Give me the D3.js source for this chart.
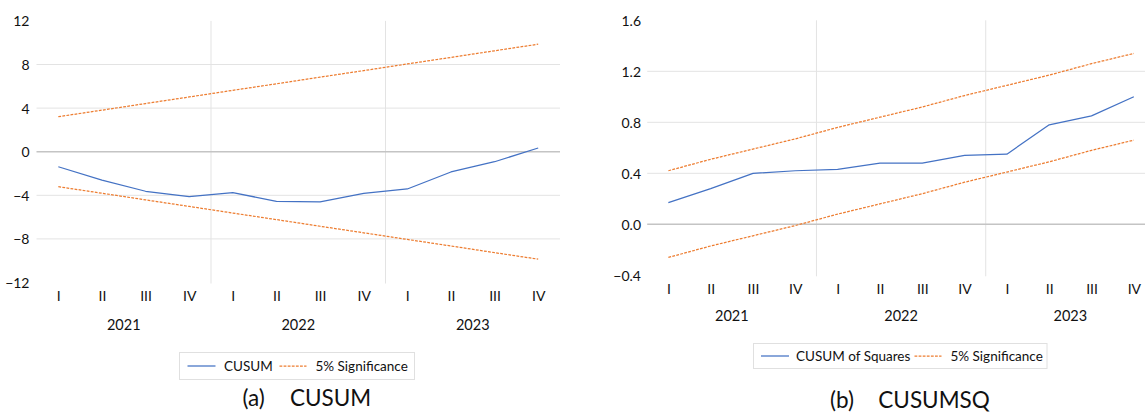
<!DOCTYPE html>
<html>
<head>
<meta charset="utf-8">
<script src="https://cdn.jsdelivr.net/npm/d3@7"></script>
<style>
  html, body { margin: 0; padding: 0; background: #fff; }
  svg { display: block; font-family: Lato, "Open Sans", sans-serif; }
</style>
</head>
<body>
<svg id="chart" width="1145" height="413"></svg>
<script>
// Quarterly periods
const years = ["2021", "2022", "2023"];
const quarters = ["I", "II", "III", "IV"];

// (a) CUSUM and its 5% bounds
const cusum      = [-1.38, -2.60, -3.63, -4.13, -3.76, -4.55, -4.61, -3.82, -3.42, -1.86, -0.92, 0.34];
const cusumUpper = [3.21, 3.81, 4.42, 5.02, 5.63, 6.23, 6.84, 7.44, 8.05, 8.65, 9.26, 9.86];
const cusumLower = [-3.21, -3.81, -4.42, -5.02, -5.63, -6.23, -6.84, -7.44, -8.05, -8.65, -9.26, -9.86];
const cusumTicks = [-12, -8, -4, 0, 4, 8, 12];

// (b) CUSUM of squares and its 5% bounds
const cusumsq      = [0.17, 0.28, 0.40, 0.42, 0.43, 0.48, 0.48, 0.54, 0.55, 0.78, 0.85, 1.00];
const cusumsqUpper = [0.42, 0.51, 0.59, 0.67, 0.76, 0.84, 0.92, 1.01, 1.09, 1.17, 1.26, 1.34];
const cusumsqLower = [-0.26, -0.17, -0.09, -0.01, 0.08, 0.16, 0.24, 0.33, 0.41, 0.49, 0.58, 0.66];
const cusumsqTicks = [-0.4, 0.0, 0.4, 0.8, 1.2, 1.6];

const periods = years.flatMap(y => quarters.map(q => y + "-" + q));

const BLUE = "#4472C4", ORANGE = "#ED7D31", INK = "#111";
const svg = d3.select("#chart");

function panel(opt) {
  const g = svg.append("g");
  const x = d3.scalePoint().domain(periods).range([opt.x0, opt.x1]).padding(0.5);
  const y = d3.scaleLinear().domain(opt.domain).range([opt.yb, opt.yt]);
  const step = x.step();

  // horizontal gridlines (interior ticks)
  g.selectAll(".grid").data(opt.ticks.filter(t => t !== opt.domain[0] && t !== opt.domain[1] && t !== 0))
    .join("line")
    .attr("x1", opt.x0).attr("x2", opt.x1)
    .attr("y1", d => y(d)).attr("y2", d => y(d))
    .attr("stroke", "#e3e3e3").attr("stroke-width", 1);

  // year separators
  years.slice(1).forEach(yr => {
    const xs = x(yr + "-I") - step / 2;
    g.append("line").attr("x1", xs).attr("x2", xs)
      .attr("y1", opt.yt).attr("y2", opt.yb + 1)
      .attr("stroke", "#e3e3e3").attr("stroke-width", 1);
  });

  // zero line
  g.append("line").attr("x1", opt.x0).attr("x2", opt.x1)
    .attr("y1", y(0)).attr("y2", y(0))
    .attr("stroke", "#c4c4c4").attr("stroke-width", 1.5);

  // y axis labels
  const yAxis = d3.axisLeft(y).tickValues(opt.ticks).tickFormat(opt.fmt).tickSize(0).tickPadding(0);
  const ya = g.append("g").attr("transform", `translate(${opt.labelRight},0)`).call(yAxis);
  ya.select(".domain").remove();
  ya.selectAll("text").attr("font-size", 14).attr("fill", INK)
    .attr("font-family", "Lato, sans-serif").attr("dy", "0.36em");

  // x axis: quarter labels then year labels
  const xAxis = d3.axisBottom(x).tickFormat(d => d.split("-")[1]).tickSize(0).tickPadding(0);
  const xa = g.append("g").attr("transform", `translate(0,${opt.qBase})`).call(xAxis);
  xa.select(".domain").remove();
  xa.selectAll("text").attr("font-size", 14).attr("fill", INK)
    .attr("font-family", "Lato, sans-serif").attr("dy", 0);

  g.selectAll(".year").data(years).join("text")
    .attr("x", d => (x(d + "-I") + x(d + "-IV")) / 2)
    .attr("y", opt.yearBase)
    .attr("text-anchor", "middle").attr("font-size", 14.5).attr("fill", INK)
    .text(d => d);

  const line = d3.line().x((d, i) => x(periods[i])).y(d => y(d));
  [opt.upper, opt.lower].forEach(s => {
    g.append("path").datum(s).attr("d", line).attr("fill", "none")
      .attr("stroke", ORANGE).attr("stroke-width", 1.25).attr("stroke-dasharray", "2.8,1.3");
  });
  g.append("path").datum(opt.series).attr("d", line).attr("fill", "none")
    .attr("stroke", BLUE).attr("stroke-width", 1.25).attr("stroke-linejoin", "round");

  // legend
  const L = opt.legend;
  const lg = g.append("g");
  lg.append("rect").attr("x", L.x + 0.5).attr("y", L.y + 0.5).attr("width", L.w).attr("height", L.h)
    .attr("fill", "#fff").attr("stroke", "#e0e0e0");
  const cy = L.y + L.h / 2 + 0.5;
  lg.append("line").attr("x1", L.s1).attr("x2", L.s1 + 28).attr("y1", cy).attr("y2", cy)
    .attr("stroke", BLUE).attr("stroke-width", 1.25);
  lg.append("text").attr("x", L.t1).attr("y", cy).attr("dy", "0.35em").attr("font-size", 13.5)
    .attr("fill", INK).text(L.label);
  lg.append("line").attr("x1", L.s2).attr("x2", L.s2 + 27).attr("y1", cy).attr("y2", cy)
    .attr("stroke", ORANGE).attr("stroke-width", 1.25).attr("stroke-dasharray", "2.8,1.3");
  lg.append("text").attr("x", L.t2).attr("y", cy).attr("dy", "0.35em").attr("font-size", 13.5)
    .attr("fill", INK).text("5% Significance");

  // caption: panel letter and title
  const C = opt.caption;
  g.append("text").attr("x", C.x1).attr("y", C.y).attr("font-size", 22.5).attr("fill", INK).text(C.tag);
  g.append("text").attr("x", C.x2).attr("y", C.y).attr("font-size", 22.5).attr("fill", INK).text(C.title);
}

panel({
  x0: 36.5, x1: 560, yt: 20.9, yb: 282.5, domain: [-12, 12], ticks: cusumTicks,
  fmt: d3.format("d"), labelRight: 29.5, qBase: 301, yearBase: 330,
  series: cusum, upper: cusumUpper, lower: cusumLower,
  legend: { x: 179, y: 352, w: 235, h: 27, s1: 187.5, t1: 224, s2: 279.5, t2: 315.5, label: "CUSUM" },
  caption: { tag: "(a)", title: "CUSUM", x1: 242.5, x2: 290, y: 405.7 }
});

panel({
  x0: 647.2, x1: 1155, yt: 20.3, yb: 275.3, domain: [-0.4, 1.6], ticks: cusumsqTicks,
  fmt: d3.format(".1f"), labelRight: 641, qBase: 294, yearBase: 320.5,
  series: cusumsq, upper: cusumsqUpper, lower: cusumsqLower,
  legend: { x: 753, y: 343, w: 293.5, h: 25, s1: 761, t1: 796, s2: 914.5, t2: 950.5, label: "CUSUM of Squares" },
  caption: { tag: "(b)", title: "CUSUMSQ", x1: 830, x2: 878.3, y: 408.3 }
});
</script>
</body>
</html>
